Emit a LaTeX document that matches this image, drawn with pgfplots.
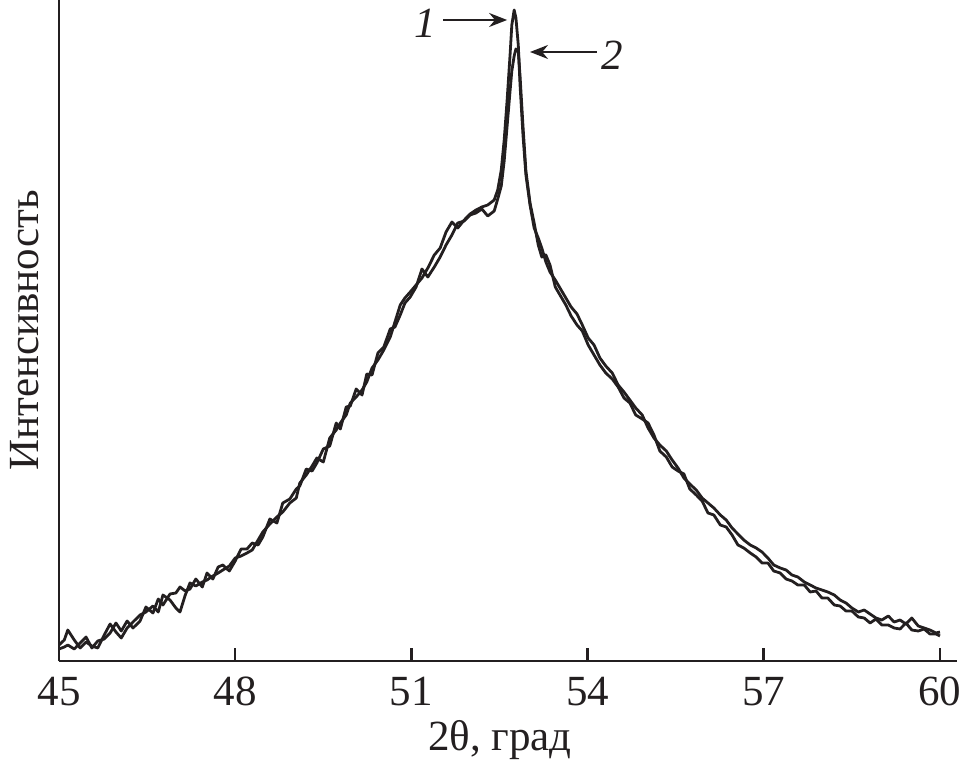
\documentclass[border=0pt]{standalone}
\usepackage{pgfplots}
\pgfplotsset{compat=1.18}
\usepackage{pgfplotstable}
\usepackage{fontspec}
\setmainfont{Liberation Serif}
\usetikzlibrary{arrows.meta}
\definecolor{ink}{HTML}{231F20}
\pgfplotstableread{
x y1 y2
45.00 16 12
45.09 21 14
45.15 31 16
45.26 21 12
45.36 13 18
45.46 19 24
45.56 15 13
45.66 13 20
45.77 26 22
45.87 37 28
45.97 29 38
46.06 23 30
46.16 33 40
46.26 39 33
46.38 46 40
46.48 49 54
46.60 55 48
46.69 49 62
46.77 66 56
46.89 61 67
46.99 53 68
47.06 49 74
47.15 66 70
47.23 78 72
47.33 75 82
47.44 79 74
47.52 81 88
47.62 85 82
47.71 88 94
47.79 91 96
47.90 95 90
48.00 103 100
48.10 105 112
48.20 108 112
48.29 111 118
48.39 121 116
48.47 129 124
48.59 137 142
48.71 144 138
48.81 149 158
48.93 158 162
49.04 163 172
49.10 178 175
49.21 186 192
49.31 195 190
49.39 203 198
49.50 199 212
49.61 223 215
49.72 231 238
49.79 238 232
49.89 246 254
49.96 258 255
50.06 264 272
50.16 271 266
50.24 279 287
50.33 293 286
50.43 301 308
50.53 311 314
50.64 324 332
50.72 339 334
50.81 356 346
50.89 363 358
50.98 369 364
51.08 376 374
51.18 383 392
51.28 393 384
51.39 406 394
51.49 413 404
51.59 429 416
51.69 439 426
51.79 433 438
51.90 441 440
52.00 447 446
52.10 451 448
52.20 454 452
52.30 456 445
52.41 461 450
52.47 471 462
52.53 491 475
52.58 521 500
52.63 561 535
52.68 606 570
52.71 636 590
52.75 651 605
52.78 643 612
52.82 616 610
52.85 576 585
52.90 526 535
52.95 486 490
53.02 456 458
53.09 433 438
53.16 423 416
53.22 413 404
53.29 399 406
53.36 389 396
53.45 381 374
53.53 373 366
53.63 363 356
53.72 354 345
53.82 347 336
53.91 336 330
54.01 323 316
54.11 316 306
54.21 303 296
54.31 295 288
54.42 288 282
54.52 276 274
54.62 269 263
54.72 261 258
54.82 253 246
54.93 246 242
55.03 233 238
55.13 223 226
55.23 216 210
55.34 210 204
55.44 201 194
55.54 193 190
55.64 183 187
55.74 177 172
55.85 171 166
55.95 163 160
56.05 158 148
56.15 153 146
56.26 146 136
56.36 141 134
56.46 133 126
56.56 127 116
56.66 121 113
56.77 116 108
56.87 113 104
56.97 109 98
57.07 103 98
57.17 96 90
57.28 93 88
57.38 91 82
57.48 86 80
57.58 84 76
57.69 79 76
57.79 76 69
57.89 73 70
57.99 71 63
58.09 69 63
58.20 66 56
58.30 61 55
58.40 58 50
58.50 53 50
58.61 49 44
58.71 51 43
58.81 47 38
58.91 43 42
59.01 41 36
59.12 45 36
59.22 39 33
59.32 41 32
59.42 37 38
59.52 43 31
59.63 35 30
59.73 33 32
59.83 31 27
59.93 28 27
60.00 29 25
}\spectra
\begin{document}
\begin{tikzpicture}
\useasboundingbox (0,0) rectangle (480.5pt,382pt);
\begin{axis}[
  at={(29.5pt,51.5pt)}, anchor=south west,
  scale only axis, width=449pt, height=330.5pt,
  xmin=45, xmax=60.29, ymin=0, ymax=661,
  axis x line=bottom, axis y line=left,
  axis line style={-, line width=1.4pt, color=ink},
  xtick={45,48,51,54,57,60}, ytick=\empty,
  tick align=inside, xtick pos=bottom,
  major tick length=6.5pt,
  tick style={line width=1.3pt, color=ink},
  /pgf/number format/assume math mode=true,
  xticklabel style={font=\fontsize{21.5}{24}\selectfont, anchor=base, yshift=-22pt, text=ink},
  xlabel={2θ, град},
  ylabel={Интенсивность},
  xlabel style={font=\fontsize{21.5}{24}\selectfont, at={(axis description cs:0.491,0)}, anchor=base, yshift=-44.5pt, text=ink},
  ylabel style={font=\fontsize{21.5}{24}\selectfont, at={(axis description cs:0,0.5)}, anchor=center, yshift=17pt, text=ink},
  clip=false,
]
\addplot[line width=1.4pt, color=ink, line join=round] table[x=x, y=y1] {\spectra};
\addplot[line width=1.4pt, color=ink, line join=round] table[x=x, y=y2] {\spectra};
\draw[-{Stealth[length=9pt,width=7pt]}, line width=1pt, color=ink] (axis cs:51.54,641) -- (axis cs:52.63,641);
\draw[-{Stealth[length=9pt,width=7pt]}, line width=1pt, color=ink] (axis cs:54.16,609) -- (axis cs:53.02,609);
\node[font=\fontsize{21.5}{24}\selectfont\itshape, text=ink] at (axis cs:51.23,638) {1};
\node[font=\fontsize{21.5}{24}\selectfont\itshape, text=ink] at (axis cs:54.42,606) {2};
\end{axis}
\end{tikzpicture}
\end{document}
